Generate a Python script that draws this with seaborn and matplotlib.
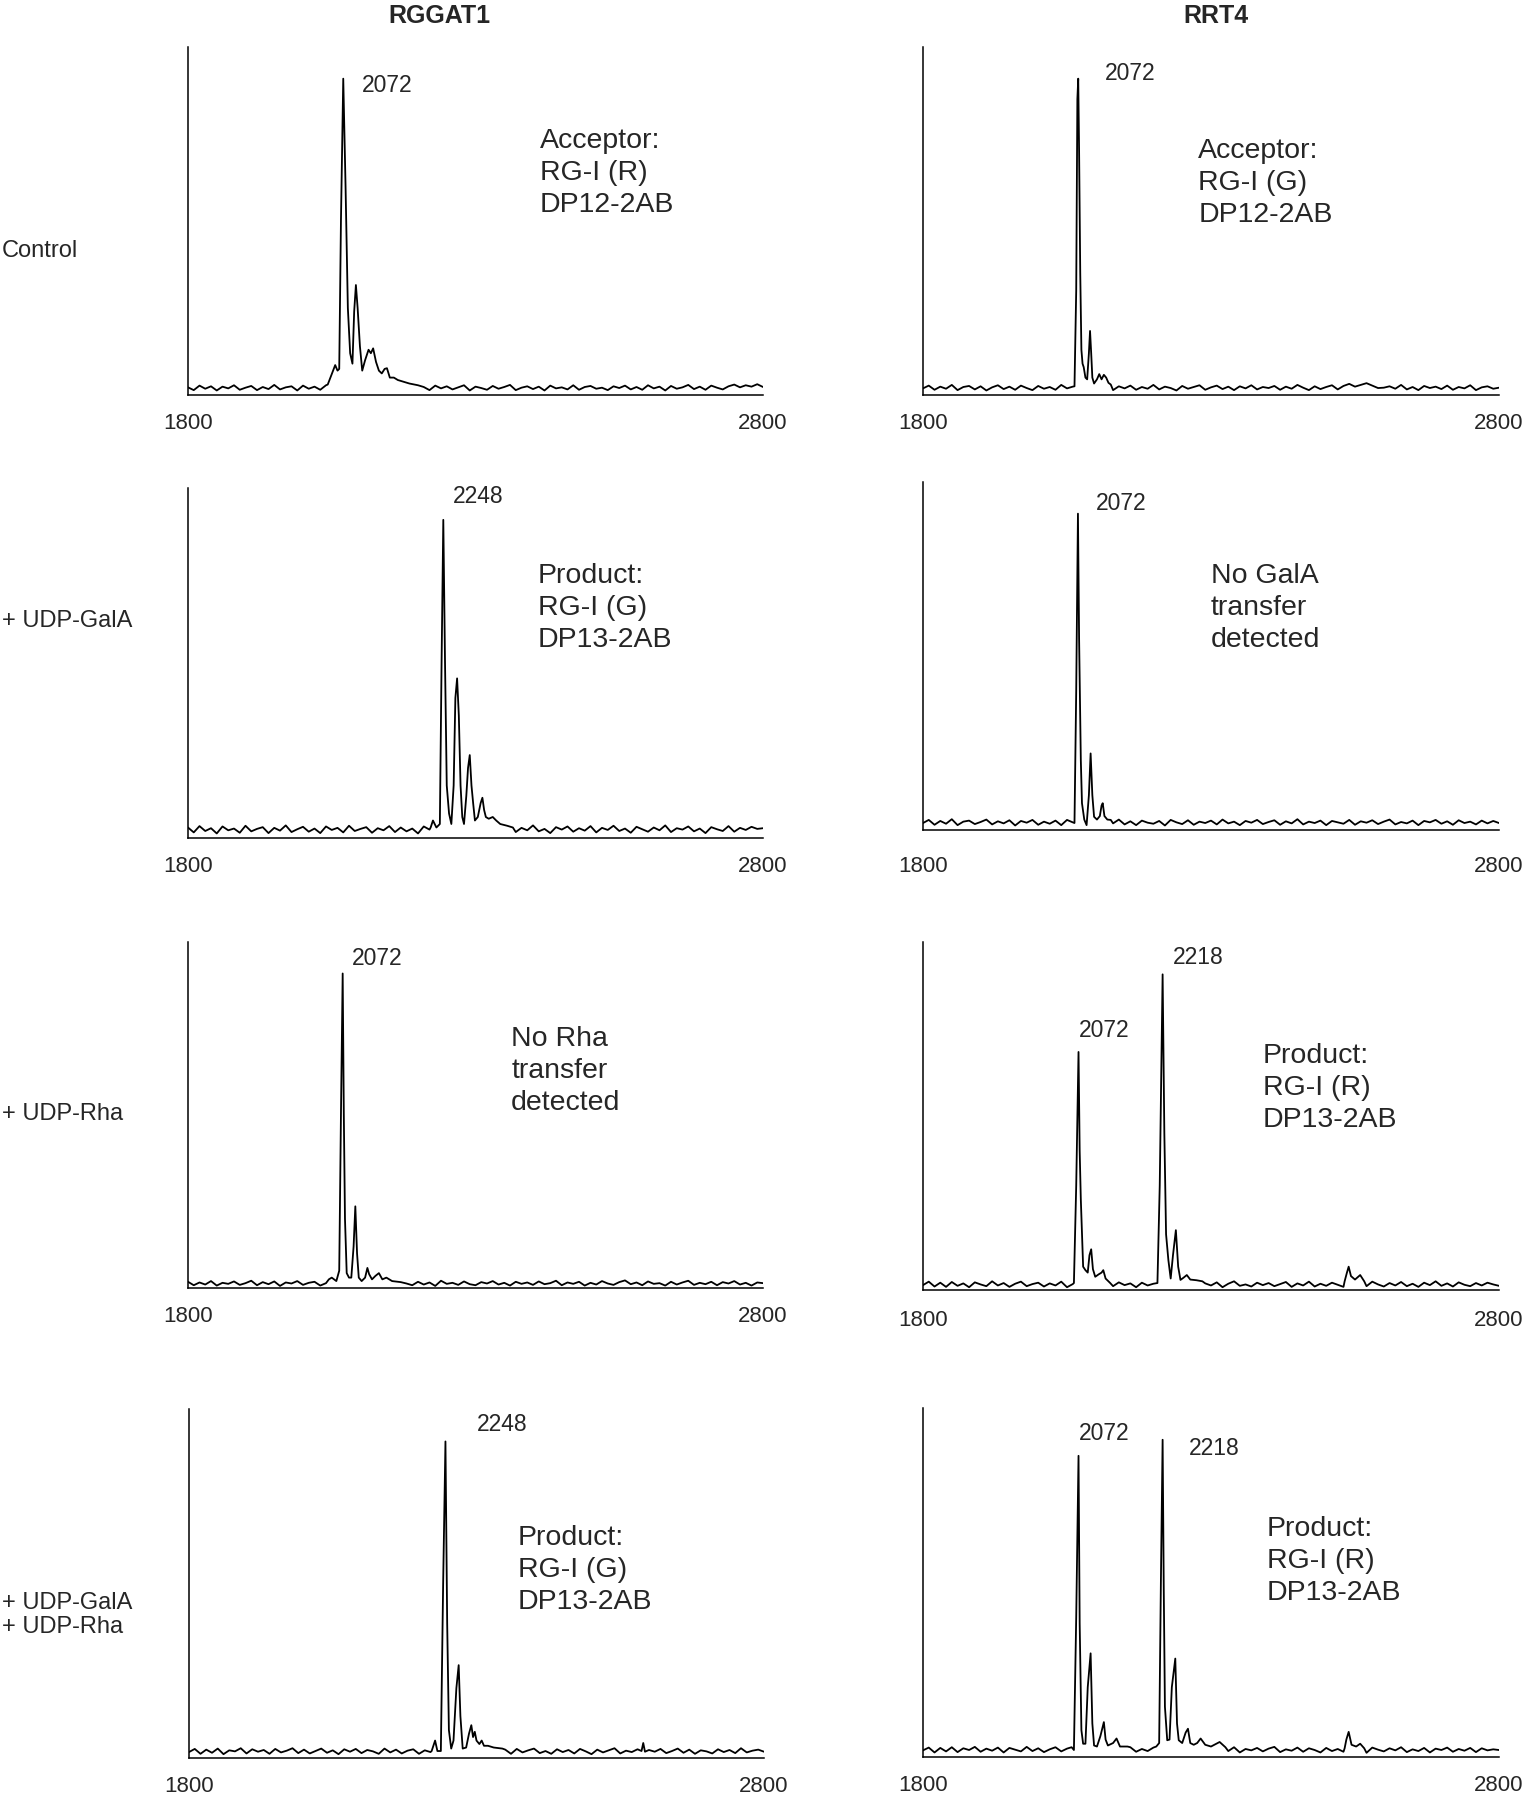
import matplotlib
matplotlib.use("Agg")
import matplotlib.pyplot as plt
import seaborn as sns


# baseline noise, in thousandths of the y-axis height,
# one value every 10 m/z from 1800 to 2800
rggat1_control_noise = [
    22, 14, 27, 18, 25, 13, 24, 19, 28, 15, 21, 26, 14, 23, 17, 29, 16, 22, 25, 13,
    27, 18, 24, 15, 28, 20, 14, 25, 19, 23, 16, 27, 21, 13, 24, 18, 29, 15, 22, 26,
    17, 23, 14, 27, 19, 25, 16, 22, 28, 13, 24, 20, 15, 26, 18, 23, 29, 14, 21, 25,
    17, 24, 13, 27, 19, 22, 16, 28, 15, 23, 26, 18, 21, 14, 25, 20, 27, 16, 23, 15,
    28, 19, 24, 13, 26, 18, 22, 29, 17, 24, 15, 27, 21, 16, 25, 30, 22, 28, 24, 31, 23,
]
rrt4_control_noise = [
    19, 27, 15, 24, 18, 29, 14, 23, 26, 16, 25, 13, 22, 28, 17, 24, 15, 27, 20, 14,
    26, 18, 23, 15, 29, 19, 24, 13, 25, 21, 16, 28, 22, 14, 25, 19, 27, 15, 23, 18,
    29, 16, 24, 20, 13, 26, 18, 23, 28, 15, 22, 27, 17, 24, 14, 25, 19, 28, 16, 23,
    20, 26, 15, 24, 18, 29, 21, 14, 25, 17, 23, 28, 16, 26, 32, 24, 29, 34, 27, 20,
    21, 25, 18, 29, 16, 23, 14, 26, 20, 24, 17, 27, 15, 23, 19, 28, 14, 22, 25, 18, 21,
]
rggat1_gala_noise = [
    30, 16, 34, 20, 28, 13, 33, 22, 27, 15, 35, 19, 26, 31, 14, 29, 21, 36, 17, 25,
    32, 18, 27, 14, 33, 23, 29, 16, 35, 20, 26, 31, 15, 28, 22, 34, 17, 30, 19, 27,
    13, 33, 24, 29, 18, 35, 21, 26, 16, 31, 23, 28, 15, 34, 20, 27, 32, 17, 29, 22,
    36, 19, 26, 14, 31, 24, 33, 18, 28, 21, 34, 16, 29, 23, 35, 20, 27, 15, 32, 25,
    18, 30, 22, 36, 17, 28, 24, 33, 19, 27, 14, 31, 25, 20, 34, 18, 29, 23, 32, 26, 28,
]
rrt4_gala_noise = [
    20, 29, 15, 26, 18, 31, 14, 24, 27, 17, 23, 30, 16, 25, 19, 28, 13, 26, 21, 29,
    15, 24, 18, 27, 14, 29, 22, 17, 26, 20, 28, 15, 23, 19, 30, 16, 25, 14, 27, 21,
    18, 26, 13, 29, 22, 17, 28, 15, 24, 20, 27, 16, 30, 19, 24, 14, 26, 21, 29, 17,
    23, 28, 15, 25, 19, 31, 16, 24, 20, 27, 14, 26, 22, 18, 29, 15, 25, 21, 28, 17,
    24, 30, 16, 23, 19, 27, 14, 26, 22, 29, 18, 25, 15, 28, 20, 24, 16, 27, 19, 26, 20,
]
rggat1_rha_noise = [
    18, 8, 16, 10, 20, 7, 15, 12, 19, 9, 14, 21, 8, 17, 11, 19, 6, 16, 13, 20,
    9, 15, 18, 7, 14, 22, 10, 17, 8, 16, 12, 19, 7, 15, 11, 20, 9, 17, 13, 8,
    18, 10, 16, 6, 21, 12, 15, 9, 19, 11, 8, 17, 13, 20, 10, 15, 7, 18, 12, 16,
    9, 19, 11, 14, 21, 8, 16, 12, 18, 7, 15, 10, 20, 13, 9, 17, 22, 11, 16, 8,
    19, 12, 14, 7, 18, 10, 16, 21, 9, 15, 11, 18, 8, 17, 13, 20, 10, 15, 7, 16, 14,
]
rrt4_rha_noise = [
    14, 24, 10, 21, 9, 23, 12, 19, 8, 22, 16, 11, 25, 13, 20, 9, 18, 24, 11, 17,
    21, 10, 19, 13, 24, 8, 17, 22, 12, 20, 9, 23, 15, 11, 22, 14, 19, 8, 21, 13,
    18, 10, 24, 12, 20, 9, 23, 15, 11, 19, 13, 22, 8, 18, 25, 12, 16, 10, 21, 14,
    20, 11, 17, 23, 9, 19, 13, 24, 10, 18, 12, 21, 15, 9, 22, 14, 19, 11, 24, 16,
    10, 20, 13, 23, 11, 18, 9, 21, 14, 25, 12, 19, 10, 22, 15, 11, 20, 13, 21, 16, 12,
]
rggat1_both_noise = [
    17, 26, 12, 24, 15, 27, 11, 22, 19, 28, 13, 25, 18, 23, 12, 26, 16, 21, 28, 14,
    24, 13, 20, 27, 15, 22, 11, 25, 18, 26, 14, 23, 19, 12, 27, 16, 24, 13, 21, 25,
    12, 22, 17, 26, 14, 24, 11, 23, 19, 27, 15, 21, 13, 25, 18, 24, 12, 26, 16, 22,
    27, 14, 20, 12, 25, 17, 23, 13, 26, 19, 11, 24, 16, 22, 28, 13, 21, 17, 25, 12,
    23, 18, 26, 14, 20, 27, 15, 24, 12, 22, 19, 13, 25, 17, 23, 14, 28, 16, 21, 24, 18,
]
rrt4_both_noise = [
    19, 27, 13, 26, 16, 28, 14, 25, 20, 29, 15, 24, 18, 27, 13, 26, 21, 16, 29, 17,
    25, 14, 22, 28, 16, 24, 12, 27, 19, 23, 14, 26, 20, 13, 25, 18, 28, 15, 23, 17,
    27, 16, 24, 13, 26, 19, 22, 14, 28, 18, 21, 15, 25, 17, 28, 13, 23, 19, 26, 16,
    24, 29, 14, 22, 18, 27, 15, 25, 20, 13, 26, 17, 23, 15, 28, 19, 24, 12, 27, 21,
    16, 25, 19, 28, 14, 22, 17, 26, 13, 24, 20, 27, 15, 23, 18, 26, 14, 25, 19, 22, 20,
]

# peak clusters (m/z, fraction of y-axis height); baseline noise is dropped inside them
rggat1_control_peaks = [[
    (2043, .03), (2050, .06), (2056, .086), (2060, .07), (2063, .075), (2066, .5),
    (2070, .909), (2074, .6), (2078, .25), (2082, .12), (2086, .09), (2089, .24),
    (2092, .316), (2095, .25), (2099, .14), (2103, .07), (2108, .1), (2114, .13),
    (2118, .12), (2122, .134), (2127, .095), (2132, .07), (2137, .062), (2142, .075),
    (2146, .077), (2151, .05), (2158, .05), (2165, .043), (2175, .038), (2185, .033),
    (2200, .028),
]]
rrt4_control_peaks = [[
    (2063, .025), (2066, .3), (2068, .85), (2069.5, .909), (2071, .7), (2073, .35),
    (2075, .13), (2077, .09), (2079, .08), (2082, .05), (2085, .045), (2088, .12),
    (2090, .184), (2092, .12), (2094, .05), (2097, .033), (2102, .045), (2106, .06),
    (2110, .045), (2114, .058), (2118, .05), (2122, .035), (2126, .03),
]]
rggat1_gala_peaks = [[
    (2222, .03), (2226, .05), (2232, .03), (2238, .04), (2241, .5), (2244, .909),
    (2247, .5), (2250, .15), (2254, .07), (2258, .04), (2262, .15), (2265, .4),
    (2268, .456), (2271, .35), (2274, .15), (2277, .06), (2280, .04), (2284, .12),
    (2287, .2), (2290, .237), (2293, .15), (2296, .098), (2299, .05), (2304, .06),
    (2309, .1), (2312, .115), (2315, .08), (2318, .06), (2323, .055), (2330, .06),
    (2336, .05), (2343, .04), (2355, .035), (2365, .03),
]]
rrt4_gala_peaks = [[
    (2063, .02), (2066, .4), (2069, .909), (2071, .55), (2074, .2), (2076, .077),
    (2080, .03), (2084, .014), (2088, .1), (2091, .22), (2094, .1), (2097, .038),
    (2102, .03), (2107, .04), (2110, .07), (2112, .077), (2115, .04), (2120, .03),
    (2126, .029),
]]
rggat1_rha_peaks = [[
    (2045, .025), (2050, .03), (2058, .02), (2063, .05), (2066, .5), (2069, .909),
    (2071, .5), (2073, .2), (2076, .043), (2080, .03), (2084, .03), (2088, .12),
    (2091, .236), (2094, .1), (2097, .03), (2102, .02), (2108, .03), (2112, .058),
    (2115, .04), (2120, .025), (2126, .035), (2132, .043), (2138, .025), (2145, .03),
    (2155, .02), (2165, .018),
]]
rrt4_rha_peaks = [
    [(2062, .02), (2066, .3), (2070, .684), (2072, .4), (2074, .26), (2078, .067),
     (2082, .057), (2086, .05), (2089, .1), (2092, .117), (2095, .06), (2099, .038),
     (2105, .045), (2110, .05), (2113, .057), (2117, .033), (2125, .02)],
    [(2207, .02), (2211, .3), (2216, .907), (2219, .45), (2222, .16), (2226, .086),
     (2230, .033), (2234, .1), (2239, .172), (2243, .067), (2247, .029), (2252, .035),
     (2258, .043), (2264, .03), (2275, .028), (2285, .025)],
    [(2532, .025), (2536, .05), (2539, .067), (2543, .04), (2550, .03), (2559, .043),
     (2566, .025)],
]
rggat1_both_peaks = [
    [(2222, .02), (2228, .05), (2232, .02), (2238, .02), (2242, .5), (2246, .907),
     (2249, .386), (2252, .08), (2256, .027), (2260, .05), (2265, .2), (2269, .266),
     (2272, .12), (2276, .027), (2282, .03), (2287, .07), (2291, .094), (2294, .06),
     (2297, .075), (2300, .05), (2305, .04), (2309, .05), (2313, .035), (2320, .035),
     (2330, .03), (2345, .027)],
    [(2587, .02), (2590, .043), (2593, .018)],
]
rrt4_both_peaks = [
    [(2058, .028), (2062, .02), (2066, .4), (2070, .863), (2072, .383), (2075, .077),
     (2078, .038), (2082, .038), (2086, .2), (2091, .297), (2094, .096), (2097, .033),
     (2102, .03), (2108, .06), (2114, .1), (2117, .05), (2121, .033), (2130, .04),
     (2136, .053), (2142, .03), (2155, .03)],
    [(2205, .03), (2210, .04), (2213, .5), (2216, .909), (2218, .478), (2220, .144),
     (2224, .048), (2228, .05), (2232, .2), (2238, .282), (2241, .096), (2244, .048),
     (2250, .04), (2256, .07), (2260, .081), (2264, .04), (2270, .035), (2276, .04),
     (2282, .053), (2290, .035), (2300, .03), (2315, .043), (2325, .028)],
    [(2532, .025), (2535, .05), (2539, .072), (2544, .035), (2552, .03), (2559, .038),
     (2566, .025)],
]

column_titles = ["RGGAT1", "RRT4"]
row_labels = ["Control", "+ UDP-GalA", "+ UDP-Rha", "+ UDP-GalA\n+ UDP-Rha"]

# peak labels: (text, m/z of left edge, baseline height)
peak_labels = [
    [("2072", 2102, .871)],
    [("2072", 2115, .904)],
    [("2248", 2261, .957)],
    [("2072", 2100, .920)],
    [("2072", 2085, .933)],
    [("2072", 2071, .727), ("2218", 2233, .938)],
    [("2248", 2301, .936)],
    [("2072", 2071, .909), ("2218", 2262, .866)],
]
notes = [
    ("Acceptor:\nRG-I (R)\nDP12-2AB", 2412, .768),
    ("Acceptor:\nRG-I (G)\nDP12-2AB", 2278, .739),
    ("Product:\nRG-I (G)\nDP13-2AB", 2408, .787),
    ("No GalA\ntransfer\ndetected", 2300, .768),
    ("No Rha\ntransfer\ndetected", 2362, .757),
    ("Product:\nRG-I (R)\nDP13-2AB", 2390, .710),
    ("Product:\nRG-I (G)\nDP13-2AB", 2372, .668),
    ("Product:\nRG-I (R)\nDP13-2AB", 2397, .691),
]
noises = [rggat1_control_noise, rrt4_control_noise, rggat1_gala_noise, rrt4_gala_noise,
          rggat1_rha_noise, rrt4_rha_noise, rggat1_both_noise, rrt4_both_noise]
peaks = [rggat1_control_peaks, rrt4_control_peaks, rggat1_gala_peaks, rrt4_gala_peaks,
         rggat1_rha_peaks, rrt4_rha_peaks, rggat1_both_peaks, rrt4_both_peaks]

# panel boxes in pixels: left, top, right, bottom
boxes = [
    (188, 47, 763, 395), (923, 47, 1499, 395),
    (188, 488, 763, 838), (923, 482, 1499, 830),
    (188, 942, 763, 1288), (923, 942, 1499, 1290),
    (189, 1409, 764, 1758), (923, 1408, 1499, 1757),
]
tick_pads = [3, 3, 3, 8.5, 3, 4.5, 3, 3]
row_label_y = [251, 621, 1114, 1615]

W, H = 1528, 1800

sns.set_style("white")
plt.rcParams["font.family"] = ["Liberation Sans", "DejaVu Sans"]

fig = plt.figure(figsize=(W / 100, H / 100), dpi=100)

ticks = list(range(1800, 2801, 100))
tick_text = ["1800"] + [""] * 9 + ["2800"]


def build_trace(noise, clusters):
    pts = []
    for k, v in enumerate(noise[:101]):
        mz = 1800 + 10 * k
        if any(c[0][0] <= mz <= c[-1][0] for c in clusters):
            continue
        pts.append((mz, v / 1000))
    for c in clusters:
        pts.extend(c)
    pts.sort()
    return pts


for i in range(8):
    l, t, r, b = boxes[i]
    ax = fig.add_axes([l / W, 1 - b / H, (r - l) / W, (b - t) / H])

    trace = build_trace(noises[i], peaks[i])
    sns.lineplot(
        x=[p[0] for p in trace],
        y=[p[1] for p in trace],
        ax=ax,
        color="black",
        linewidth=1.3,
        sort=False,
        estimator=None,
    )

    ax.set_xlim(1800, 2800)
    ax.set_ylim(0, 1)
    ax.set_xticks(ticks)
    ax.set_xticklabels(tick_text)
    ax.set_yticks([])
    ax.set_xlabel("")
    ax.set_ylabel("")
    ax.tick_params(axis="x", direction="out", length=10, width=1.1,
                   pad=tick_pads[i], labelsize=16, color="black")
    sns.despine(ax=ax)
    for side in ["left", "bottom"]:
        ax.spines[side].set_linewidth(1.1)
        ax.spines[side].set_color("black")

    for txt, mz, y in peak_labels[i]:
        ax.text(mz, y, txt, fontsize=16.5, ha="left", va="baseline")

    note, mz, y = notes[i]
    ax.text(mz, y, note, fontsize=20.5, ha="left", va="top", linespacing=1.3)

fig.text(439 / W, 1 - 16 / H, column_titles[0], fontsize=18,
         fontweight="bold", ha="center", va="center")
fig.text(1216 / W, 1 - 16 / H, column_titles[1], fontsize=18,
         fontweight="bold", ha="center", va="center")

for lab, yc in zip(row_labels, row_label_y):
    fig.text(2 / W, 1 - yc / H, lab, fontsize=17, ha="left", va="center",
             linespacing=1.17)

fig.savefig("out.png", dpi=100)
